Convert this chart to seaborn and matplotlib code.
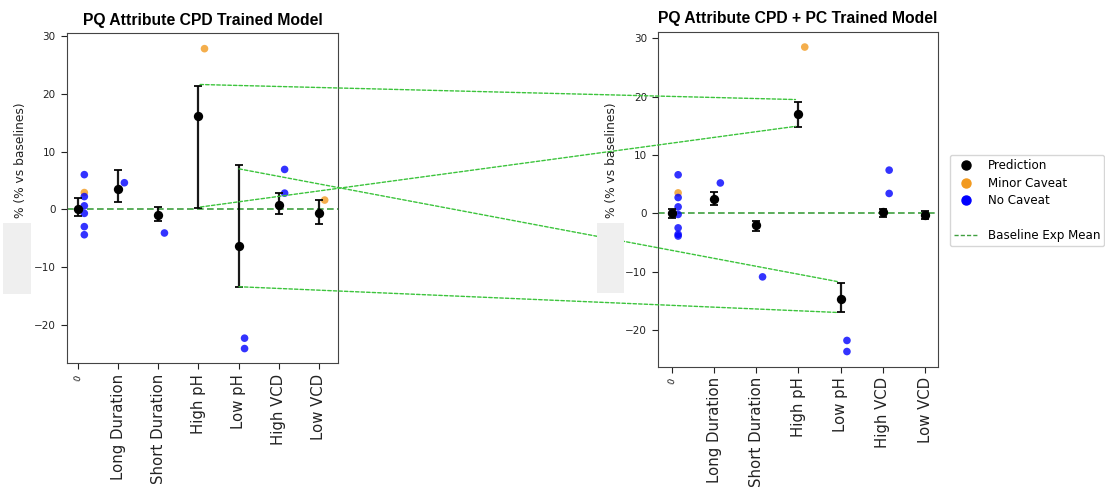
import numpy as np
import pandas as pd
import matplotlib
matplotlib.use("Agg")
import matplotlib.pyplot as plt
from matplotlib.patches import ConnectionPatch, Rectangle
from matplotlib.lines import Line2D
import seaborn as sns

# ---------------- data ----------------
categories = ["0", "Long Duration", "Short Duration", "High pH", "Low pH", "High VCD", "Low VCD"]

left_title = "PQ Attribute CPD Trained Model"
right_title = "PQ Attribute CPD + PC Trained Model"

left_pred = [0.1, 3.6, -0.9, 16.2, -6.3, 0.75, -0.6]
left_lo = [-1.2, 1.2, -2.0, 0.2, -13.4, -0.8, -2.5]
left_hi = [1.95, 6.75, 0.4, 21.4, 7.6, 2.8, 1.6]

right_pred = [0.05, 2.5, -2.0, 17.1, -14.7, 0.17, -0.34]
right_lo = [-0.85, 1.5, -3.0, 14.8, -17.0, -0.7, -1.0]
right_hi = [0.7, 3.6, -1.4, 19.1, -11.9, 0.7, 0.4]

left_obs_cat = [0, 0, 0, 0, 0, 0, 0, 1, 2, 3, 4, 4, 5, 5, 6]
left_obs_val = [6.0, 2.9, 2.2, 0.6, -0.7, -3.0, -4.4, 4.6, -4.1, 27.8, -22.3, -24.1, 6.9, 2.8, 1.6]
left_obs_cav = ["No Caveat", "Minor Caveat", "No Caveat", "No Caveat", "No Caveat", "No Caveat",
                "No Caveat", "No Caveat", "No Caveat", "Minor Caveat", "No Caveat", "No Caveat",
                "No Caveat", "No Caveat", "Minor Caveat"]

right_obs_cat = [0, 0, 0, 0, 0, 0, 0, 0, 1, 2, 3, 4, 4, 5, 5]
right_obs_val = [6.6, 3.5, 2.7, 1.1, -0.2, -2.5, -3.6, -3.9, 5.2, -10.9, 28.5, -21.8, -23.7, 7.4, 3.4]
right_obs_cav = ["No Caveat", "Minor Caveat", "No Caveat", "No Caveat", "No Caveat", "No Caveat",
                 "No Caveat", "No Caveat", "No Caveat", "No Caveat", "Minor Caveat", "No Caveat",
                 "No Caveat", "No Caveat", "No Caveat"]

# connecting lines: (left x, left y) -> (right x, right y)
conn_left_x = [3.04, 3.05, 4.01, 4.01]
conn_left_y = [21.6, 0.4, 7.0, -13.4]
conn_right_x = [2.93, 2.93, 3.92, 3.92]
conn_right_y = [19.5, 14.9, -11.7, -17.0]

ylabel = "% (% vs baselines)"
obs_offset = 0.15

palette = {"Minor Caveat": "#f29a1f", "No Caveat": "#0000ff"}

# ---------------- figure ----------------
fig = plt.figure(figsize=(11.05, 4.87), dpi=100)
W, H = 1105, 487
ax1 = fig.add_axes([66.7 / W, 1 - 363.3 / H, (338.3 - 66.7) / W, (363.3 - 33.3) / H])
ax2 = fig.add_axes([658.3 / W, 1 - 366.7 / H, (937.7 - 658.3) / W, (366.7 - 31.7) / H])


def draw(ax, pred, lo, hi, ocat, oval, ocav, title, xlim, ylim):
    x = np.arange(len(categories))
    pred = np.array(pred)
    lo = np.array(lo)
    hi = np.array(hi)
    ax.axhline(0, color="green", alpha=0.75, lw=1.2, ls=(0, (4, 2)), zorder=1)
    obs = pd.DataFrame({"x": np.array(ocat) + obs_offset, "y": oval, "cav": ocav})
    sns.scatterplot(data=obs, x="x", y="y", hue="cav", palette=palette, s=30,
                    alpha=0.8, linewidth=0, legend=False, ax=ax, zorder=2)
    ax.errorbar(x, pred, yerr=[pred - lo, hi - pred], fmt="none", ecolor="black",
                elinewidth=1.6, capsize=3.2, capthick=1.4, zorder=3, alpha=0.9)
    sns.scatterplot(x=x, y=pred, color="black", s=45, linewidth=0, ax=ax, zorder=4)
    ax.set_xlim(*xlim)
    ax.set_ylim(*ylim)
    ax.set_xticks(x)
    ax.set_xticklabels(categories, rotation=90, fontsize=10.7)
    t0 = ax.get_xticklabels()[0]
    t0.set_fontsize(6.5)
    t0.set_rotation(70)
    ax.set_yticks([-20, -10, 0, 10, 20, 30])
    ax.tick_params(axis="y", labelsize=7.5, colors="#222222", length=4.5)
    ax.tick_params(axis="x", colors="#222222", length=4.5, pad=3)
    ax.set_xlabel("")
    ax.set_ylabel(ylabel, fontsize=8.8, y=0.615, color="#222222", labelpad=5)
    ax.set_title(title, fontsize=11.3, fontweight="bold", family="Liberation Sans")
    for sp in ax.spines.values():
        sp.set_color("#444444")


draw(ax1, left_pred, left_lo, left_hi, left_obs_cat, left_obs_val, left_obs_cav,
     left_title, (-0.29, 6.49), (-26.65, 30.46))
draw(ax2, right_pred, right_lo, right_hi, right_obs_cat, right_obs_val, right_obs_cav,
     right_title, (-0.32, 6.3), (-26.3, 31.13))

for xa, ya, xb, yb in zip(conn_left_x, conn_left_y, conn_right_x, conn_right_y):
    con = ConnectionPatch(xyA=(xa, ya), xyB=(xb, yb), coordsA="data", coordsB="data",
                          axesA=ax1, axesB=ax2, color="#3cc43c", lw=1.0,
                          linestyle=(0, (2.5, 1.5)), zorder=5)
    fig.add_artist(con)

# gray boxes
fig.add_artist(Rectangle((3.3 / W, 1 - 294 / H), 27.7 / W, 71.3 / H, transform=fig.transFigure,
                         facecolor="#efefef", edgecolor="none", zorder=10))
fig.add_artist(Rectangle((596.7 / W, 1 - 292.7 / H), 27.6 / W, 70 / H, transform=fig.transFigure,
                         facecolor="#efefef", edgecolor="none", zorder=10))

handles = [
    Line2D([], [], ls="none", marker="o", color="black", markersize=6.5),
    Line2D([], [], ls="none", marker="o", color="#f29a1f", markersize=6.5),
    Line2D([], [], ls="none", marker="o", color="#0000ff", markersize=6.5),
    Line2D([], [], ls="none"),
    Line2D([], [], color="green", alpha=0.75, lw=1.0, ls=(0, (3, 1.5))),
]
labels = ["Prediction", "Minor Caveat", "No Caveat", " ", "Baseline Exp Mean"]
fig.legend(handles, labels, loc="upper left", bbox_to_anchor=(944 / W, 1 - 149 / H),
           fontsize=8.6, frameon=True, labelspacing=0.38, borderpad=0.35)

fig.savefig("out.png", dpi=100)
